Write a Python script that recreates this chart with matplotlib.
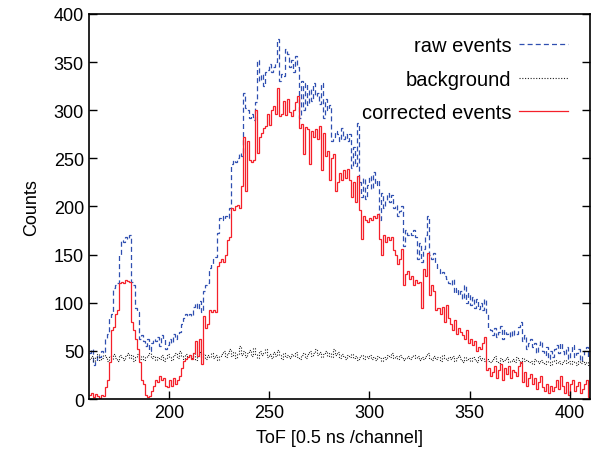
import numpy as np
import matplotlib
matplotlib.use("Agg")
from matplotlib import pyplot as plt

# channel edges 160..410, one bin per channel
first_channel = 160

raw_events = [
    48, 52, 35, 40, 46, 44, 50, 48, 62, 68,
    84, 88, 115, 118, 120, 150, 165, 163, 168, 166,
    170, 122, 118, 95, 90, 62, 66, 60, 55, 62,
    50, 58, 62, 60, 64, 55, 66, 62, 52, 56,
    62, 58, 68, 62, 66, 70, 78, 84, 88, 86,
    88, 86, 96, 100, 94, 102, 90, 112, 118, 120,
    136, 140, 145, 148, 172, 188, 190, 186, 190, 188,
    198, 244, 248, 246, 250, 256, 252, 318, 302, 300,
    292, 296, 290, 308, 352, 330, 338, 325, 340, 342,
    348, 340, 345, 350, 374, 330, 338, 335, 364, 358,
    345, 352, 340, 356, 345, 292, 330, 300, 328, 305,
    322, 310, 328, 315, 318, 306, 328, 292, 312, 300,
    305, 268, 272, 278, 275, 268, 282, 270, 275, 268,
    275, 240, 262, 242, 287, 225, 210, 230, 208, 222,
    232, 218, 236, 222, 228, 186, 214, 198, 206, 214,
    205, 212, 198, 202, 190, 195, 200, 159, 176, 170,
    172, 170, 176, 168, 145, 162, 142, 156, 170, 190,
    150, 145, 152, 140, 135, 130, 132, 128, 125, 120,
    118, 125, 110, 115, 108, 112, 104, 118, 100, 110,
    98, 106, 95, 104, 94, 100, 92, 104, 88, 74,
    72, 66, 74, 64, 70, 76, 62, 72, 68, 70,
    64, 72, 66, 68, 75, 80, 60, 66, 52, 58,
    62, 54, 58, 48, 56, 60, 50, 46, 54, 42,
    50, 44, 52, 56, 48, 58, 50, 46, 54, 42,
    50, 56, 44, 48, 52, 40, 46, 50, 54, 44,
]

background = [
    42, 45, 40, 44, 47, 41, 43, 46, 44, 40,
    45, 42, 47, 43, 40, 46, 44, 41, 45, 48,
    43, 46, 40, 44, 47, 42, 45, 41, 44, 46,
    48, 43, 45, 41, 44, 42, 46, 40, 43, 47,
    44, 41, 46, 48, 43, 50, 45, 42, 47, 44,
    46, 43, 48, 41, 45, 49, 44, 47, 42, 46,
    44, 48, 43, 46, 41, 45, 47, 50, 44, 48,
    52, 45, 49, 43, 47, 55, 46, 50, 44, 48,
    51, 45, 53, 47, 43, 50, 46, 48, 52, 44,
    47, 43, 49, 45, 51, 46, 42, 48, 44, 46,
    43, 47, 45, 49, 44, 42, 46, 48, 43, 47,
    50, 45, 48, 52, 46, 49, 44, 47, 50, 45,
    48, 44, 52, 46, 49, 43, 47, 45, 42, 46,
    44, 47, 43, 45, 41, 44, 46, 42, 45, 43,
    46, 42, 44, 41, 45, 43, 40, 44, 42, 46,
    44, 48, 43, 45, 42, 46, 44, 41, 43, 45,
    42, 44, 46, 43, 45, 41, 44, 42, 45, 48,
    43, 41, 45, 42, 44, 40, 46, 43, 41, 44,
    42, 45, 40, 43, 46, 42, 38, 44, 41, 43,
    40, 44, 42, 38, 45, 41, 43, 39, 42, 40,
    38, 42, 45, 40, 37, 43, 39, 41, 44, 38,
    40, 42, 38, 44, 41, 37, 43, 39, 41, 38,
    40, 36, 42, 39, 37, 41, 38, 36, 40, 38,
    35, 39, 41, 37, 40, 36, 38, 41, 37, 39,
    36, 40, 38, 35, 39, 37, 40, 36, 38, 35,
]

corrected_events = [
    4, 6, 2, 5, 3, 1, 4, 3, 12, 20,
    38, 72, 75, 88, 92, 120, 122, 121, 124, 123,
    122, 80, 72, 62, 52, 38, 20, 16, 4, 2,
    3, 8, 14, 20, 18, 24, 20, 22, 14, 12,
    20, 14, 22, 16, 20, 24, 32, 40, 42, 44,
    46, 42, 48, 60, 45, 62, 36, 86, 74, 78,
    92, 90, 92, 90, 138, 142, 145, 142, 150, 165,
    168, 198, 196, 200, 202, 198, 221, 272, 216, 268,
    248, 246, 248, 300, 256, 272, 276, 282, 284, 296,
    285, 300, 304, 296, 323, 294, 296, 310, 295, 312,
    298, 294, 300, 308, 315, 282, 286, 254, 283, 280,
    244, 278, 272, 280, 270, 284, 238, 276, 252, 258,
    228, 250, 254, 216, 225, 235, 228, 238, 230, 239,
    228, 210, 225, 205, 232, 196, 166, 190, 186, 184,
    188, 186, 190, 188, 192, 166, 150, 170, 163, 168,
    165, 168, 155, 150, 140, 145, 156, 118, 130, 133,
    125, 128, 118, 124, 120, 122, 95, 135, 128, 152,
    108, 118, 112, 92, 95, 88, 96, 80, 98, 84,
    78, 72, 82, 68, 74, 70, 66, 62, 72, 58,
    62, 56, 60, 50, 54, 52, 58, 64, 30, 32,
    24, 28, 34, 22, 30, 36, 20, 32, 26, 34,
    22, 30, 28, 24, 34, 38, 18, 28, 14, 22,
    26, 16, 22, 10, 18, 24, 12, 8, 16, 6,
    14, 8, 12, 20, 10, 24, 14, 6, 18, 4,
    16, 20, 8, 14, 18, 6, 10, 16, 20, 2,
]

edges = np.arange(first_channel, first_channel + len(raw_events) + 1)

plt.rcParams['font.family'] = ['Liberation Sans', 'DejaVu Sans']
plt.rcParams['font.size'] = 13

fig = plt.figure(figsize=(6, 4.52), dpi=100)
ax = fig.add_axes([0.148, 0.115, 0.835, 0.852])

ax.stairs(raw_events, edges, baseline=None, color='#2f4fb0', lw=0.9,
          linestyle=(0, (4, 2.5)), label='raw events')
ax.stairs(background, edges, baseline=None, color='#222222', lw=0.8,
          linestyle=(0, (1, 1.5)), label='background')
ax.stairs(corrected_events, edges, baseline=None, color='#f5202a', lw=0.9,
          label='corrected events')

ax.set_xlim(160, 410)
ax.set_ylim(0, 400)
ax.set_xticks(np.arange(200, 401, 50))
ax.set_yticks(np.arange(0, 401, 50))
ax.tick_params(direction='in', length=6, width=1, right=True, top=False)
for s in ax.spines.values():
    s.set_linewidth(1.2)

ax.set_xlabel('ToF [0.5 ns /channel]', labelpad=6)
ax.set_ylabel('Counts', labelpad=10)

ax.legend(loc='upper right', frameon=False, markerfirst=False, fontsize=14.5,
          handlelength=2.4, handletextpad=0.4, labelspacing=0.72,
          borderaxespad=0.7)

fig.savefig('out.png', dpi=100)
